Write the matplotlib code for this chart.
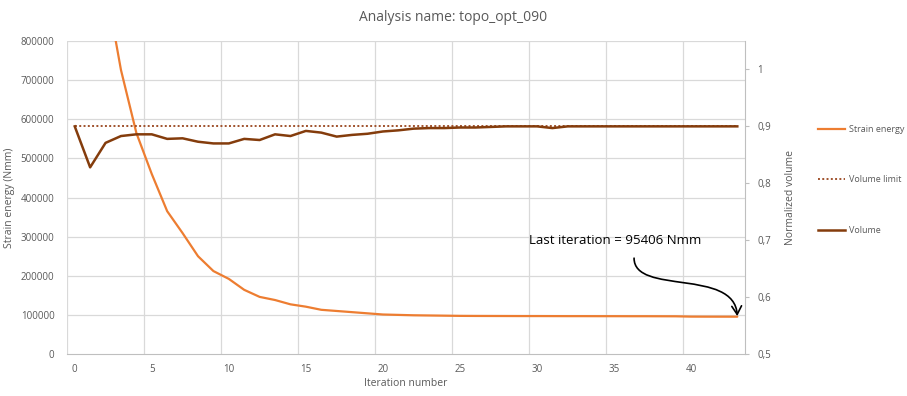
import matplotlib.pyplot as plt
from matplotlib.lines import Line2D
from matplotlib.patches import FancyArrowPatch
from matplotlib.path import Path

plt.rcParams['font.family'] = ['Open Sans', 'DejaVu Sans']

# data
iterations = list(range(44))
strain_energy = [1600000, 1200000, 945000, 726000, 565000, 460000, 365000, 309000, 250000, 212000,
                 192000, 164000, 146000, 138000, 127000, 121000, 113000, 110000, 107000, 104000,
                 101000, 100000, 99000, 98500, 98000, 97500, 97300, 97200, 97100, 97000,
                 97000, 96900, 96800, 96800, 96700, 96700, 96600, 96600, 96500, 96400,
                 95600, 95500, 95450, 95406]
volume = [0.900, 0.828, 0.871, 0.883, 0.886, 0.886, 0.878, 0.879, 0.873, 0.870,
          0.870, 0.878, 0.876, 0.886, 0.883, 0.892, 0.889, 0.882, 0.885, 0.887,
          0.891, 0.893, 0.896, 0.897, 0.897, 0.898, 0.898, 0.899, 0.900, 0.900,
          0.900, 0.897, 0.900, 0.900, 0.900, 0.900, 0.900, 0.900, 0.900, 0.900,
          0.900, 0.900, 0.900, 0.900]
volume_limit = [0.9] * 44
left_ticks = [0, 100000, 200000, 300000, 400000, 500000, 600000, 700000, 800000]
right_ticks = [0.5, 0.6, 0.7, 0.8, 0.9, 1.0]
right_labels = ['0,5', '0,6', '0,7', '0,8', '0,9', '1']
x_ticks = [0, 5, 10, 15, 20, 25, 30, 35, 40]

orange = '#ED7D31'
brown = '#843C0C'
limit_col = '#A0522D'
grid_col = '#D9D9D9'
text_col = '#595959'

fig = plt.figure(figsize=(9.07, 3.96), dpi=100)
ax = fig.add_axes([0.0739, 0.106, 0.7475, 0.7905])
ax2 = ax.twinx()

ax.plot(iterations, strain_energy, color=orange, lw=1.6, solid_capstyle='round')
ax2.plot(iterations, volume_limit, color=limit_col, lw=1.4, ls=(0, (1, 1.2)))
ax2.plot(iterations, volume, color=brown, lw=1.8, solid_joinstyle='round')

ax.set_xlim(-0.5, 43.5)
ax.set_ylim(0, 800000)
ax2.set_ylim(0.5, 1.05)

# gridlines at category boundaries (Excel category axis)
for gx in [-0.5 + 5 * k for k in range(9)]:
    ax.axvline(gx, color=grid_col, lw=0.9, zorder=0)
for gy in left_ticks[1:]:
    ax.axhline(gy, color=grid_col, lw=0.9, zorder=0)

ax.set_xticks(x_ticks)
ax.set_yticks(left_ticks)
ax.set_yticklabels([str(v) for v in left_ticks])
ax2.set_yticks(right_ticks)
ax2.set_yticklabels(right_labels)

ax.tick_params(axis='x', length=0, labelsize=7, colors=text_col, pad=7)
ax.tick_params(axis='y', length=0, labelsize=7, colors=text_col, pad=9)
ax2.tick_params(axis='y', length=3, width=0.8, color='#BFBFBF', labelsize=7, colors=text_col, pad=6)

for a in (ax, ax2):
    for s in ('top', 'left'):
        a.spines[s].set_visible(False)
    a.spines['bottom'].set_color('#BFBFBF')
    a.spines['right'].set_color('#BFBFBF')
ax.spines['right'].set_visible(False)
ax2.spines['bottom'].set_visible(False)

ax.set_xlabel('Iteration number', fontsize=7.5, color=text_col, labelpad=2)
ax.set_ylabel('Strain energy (Nmm)', fontsize=7.5, color=text_col, labelpad=4)
ax2.set_ylabel('Normalized volume', fontsize=7.5, color=text_col, labelpad=10)

fig.text(0.5, 0.955, 'Analysis name: topo_opt_090', ha='center', va='center',
         fontsize=10, color=text_col)

# annotation with curved arrow
ax.text(35.1, 291000, 'Last iteration = 95406 Nmm', ha='center', va='center',
        fontsize=9.5, color='black')
verts = [(36.3, 245000), (36.3, 150000), (42.8, 220000), (43.0, 97000)]
codes = [Path.MOVETO, Path.CURVE4, Path.CURVE4, Path.CURVE4]
arrow = FancyArrowPatch(path=Path(verts, codes), arrowstyle='->,head_length=6,head_width=3.5',
                        color='black', lw=1.2, zorder=5)
ax.add_patch(arrow)

handles = [Line2D([], [], color=orange, lw=1.6),
           Line2D([], [], color=limit_col, lw=1.4, ls=(0, (1, 1.2))),
           Line2D([], [], color=brown, lw=1.8)]
fig.legend(handles, ['Strain energy', 'Volume limit', 'Volume'],
           loc='upper left', bbox_to_anchor=(0.893, 0.705), frameon=False,
           fontsize=6.5, labelcolor=text_col, handlelength=3.0, handletextpad=0.4,
           labelspacing=4.6)

fig.savefig('out.png', dpi=100)
